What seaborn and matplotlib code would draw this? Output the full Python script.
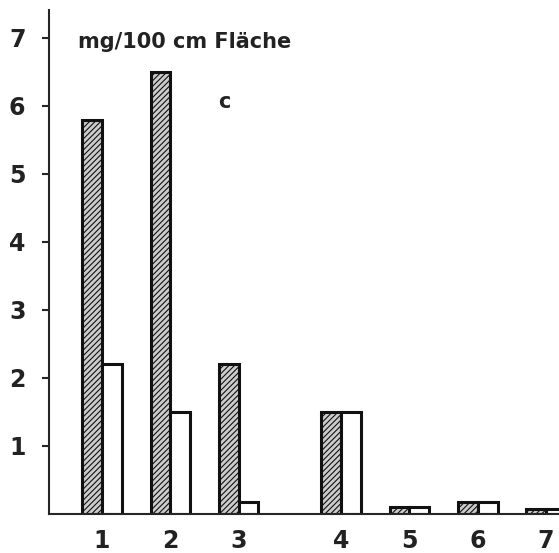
import pandas as pd
import matplotlib
matplotlib.use("Agg")
import matplotlib.pyplot as plt
import seaborn as sns

# Werte (mg/100 cm Fläche)
gruppen = ["1", "2", "3", "4", "5", "6", "7"]
schraffiert = [5.8, 6.5, 2.2, 1.5, 0.1, 0.17, 0.07]
weiss = [2.2, 1.5, 0.18, 1.5, 0.1, 0.17, 0.07]
y_ticks = [1, 2, 3, 4, 5, 6, 7]

# Lage der Gruppen auf der x-Achse (Lücke zwischen 3 und 4)
lage = [1, 2, 3, 4.5, 5.5, 6.5, 7.5]

df = pd.DataFrame({
    "pos": lage * 2,
    "wert": schraffiert + weiss,
    "serie": ["a"] * len(gruppen) + ["b"] * len(gruppen),
})

sns.set_style("ticks")
plt.rcParams["font.family"] = ["DejaVu Sans"]
plt.rcParams["hatch.linewidth"] = 0.8

fig = plt.figure(figsize=(5.59, 5.53), dpi=100)
ax = fig.add_axes([49 / 559, 39 / 553, 1 - 49 / 559, (514 - 10) / 553])

sns.barplot(data=df, x="pos", y="wert", hue="serie", native_scale=True,
            palette={"a": "#cccccc", "b": "white"}, width=0.58,
            edgecolor="#111111", linewidth=2.2, legend=False, ax=ax)

for bar in ax.containers[0]:
    bar.set_hatch("//////")

ax.set_xlim(0.224, 7.69)
ax.set_ylim(0, 7.41)
ax.set_xticks(lage, gruppen)
ax.set_yticks(y_ticks)
ax.set_xlabel("")
ax.set_ylabel("")
ax.tick_params(axis="x", length=0, pad=11, labelsize=17)
ax.tick_params(axis="y", length=5, width=1.5, pad=12, labelsize=17)
for lab in ax.get_xticklabels() + ax.get_yticklabels():
    lab.set_fontweight("bold")
    lab.set_color("#222222")

sns.despine(ax=ax)
ax.spines["left"].set_linewidth(1.5)
ax.spines["bottom"].set_linewidth(1.5)

fig.text(78 / 559, 1 - 48 / 553, "mg/100 cm Fläche", fontsize=15,
         fontweight="bold", color="#222222", va="baseline")
fig.text(218 / 559, 1 - 108 / 553, "c", fontsize=15,
         fontweight="bold", color="#222222", va="baseline")

fig.savefig("out.png", dpi=100)
